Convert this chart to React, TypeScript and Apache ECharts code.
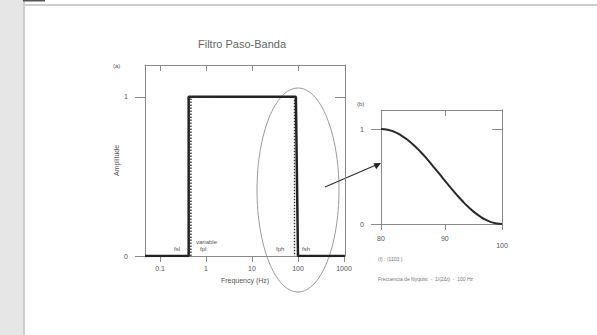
import React, { useEffect, useRef } from "react";
import * as echarts from "echarts";

// Panel (a): band-pass response (frequency in Hz, amplitude)
const solidFreq = [0.0472, 0.42, 0.42, 90, 100, 1050];
const solidAmp = [0, 0, 1, 1, 0, 0];
const dottedLowFreq = [0.47, 0.47, 1.6];
const dottedLowAmp = [0, 1, 1];
const dottedHighFreq = [84, 84];
const dottedHighAmp = [1, 0];
const mainTickFreqs = [0.1, 1, 10, 100, 1000];
const mainTickLabels = ["0.1", "1", "10", "100", "1000"];
const ampTicks = [0, 1];

// Panel (b): taper between 80 and 100 Hz
const taperFreq = [80, 81, 82, 83, 84, 85, 86, 87, 88, 89, 90, 91, 92, 93, 94, 95, 96, 97, 98, 99, 100];
const taperAmp = [1.0, 0.992, 0.97, 0.934, 0.887, 0.829, 0.763, 0.691, 0.613, 0.535, 0.456, 0.38, 0.307, 0.239, 0.178, 0.125, 0.081, 0.045, 0.02, 0.005, 0];
const zoomTickFreqs = [80, 90, 100];
const zoomTickLabels = ["80", "90", "100"];

const lg = (v: number) => Math.log10(v);

export default function App() {
  const ref = useRef<HTMLDivElement>(null);
  useEffect(() => {
    if (!ref.current) return;
    const chart = echarts.init(ref.current, null, { renderer: "svg" });
    const axisColor = "#8a8a8a";
    const textColor = "#555555";
    const font = "Liberation Sans";
    const mainTicks = mainTickFreqs.map(lg);
    const zoomTicks = zoomTickFreqs.map(lg);
    const labelFor = (ticks: number[], labels: string[], v: number) => {
      let best = 0;
      ticks.forEach((t, i) => {
        if (Math.abs(t - v) < Math.abs(ticks[best] - v)) best = i;
      });
      return labels[best];
    };
    const line = { show: true, onZero: false, lineStyle: { color: axisColor, width: 1 } };
    const baseX = (gridIndex: number, min: number, max: number, ticks: number[], labels: string[], extra: any = {}) => ({
      type: "value",
      gridIndex,
      min,
      max,
      position: "bottom",
      axisLine: line,
      axisTick: { show: true, inside: false, length: 6, customValues: ticks, lineStyle: { color: axisColor } },
      axisLabel: {
        show: true,
        customValues: ticks,
        color: textColor,
        fontSize: 7,
        fontFamily: font,
        margin: 9,
        showMinLabel: true,
        showMaxLabel: true,
        formatter: (v: number) => labelFor(ticks, labels, v),
        ...(extra.axisLabel || {}),
      },
      splitLine: { show: false },
    });
    const topX = (gridIndex: number, min: number, max: number, ticks: number[]) => ({
      type: "value",
      gridIndex,
      min,
      max,
      position: "top",
      axisLine: line,
      axisTick: { show: true, inside: true, length: 6, customValues: ticks, lineStyle: { color: axisColor } },
      axisLabel: { show: false },
      splitLine: { show: false },
    });
    const leftY = (gridIndex: number, extra: any = {}) => ({
      type: "value",
      gridIndex,
      min: 0,
      max: 1.2,
      position: "left",
      axisLine: line,
      axisTick: { show: true, inside: false, length: 10, customValues: ampTicks, lineStyle: { color: axisColor } },
      axisLabel: {
        show: true,
        customValues: ampTicks,
        color: textColor,
        fontSize: 7,
        fontFamily: font,
        margin: 17,
        formatter: (v: number) => String(Math.round(v)),
      },
      splitLine: { show: false },
      ...extra,
    });
    const rightY = (gridIndex: number) => ({
      type: "value",
      gridIndex,
      min: 0,
      max: 1.2,
      position: "right",
      axisLine: line,
      axisTick: { show: true, inside: true, length: 10, customValues: [1], lineStyle: { color: axisColor } },
      axisLabel: { show: false },
      splitLine: { show: false },
    });

    const mainMin = -1.326;
    const mainMax = 3.022;
    const zMin = lg(80);
    const zMax = 2;

    const label = (x: number, y: number, text: string, size = 7, extra: any = {}) => ({
      type: "text",
      x,
      y,
      style: { text, fill: textColor, fontSize: size, fontFamily: font, ...extra },
      silent: true,
    });

    chart.setOption({
      animation: false,
      backgroundColor: "#ffffff",
      title: {
        text: "Filtro Paso-Banda",
        left: 237,
        top: 33,
        textAlign: "center",
        textStyle: { color: "#666", fontSize: 11, fontWeight: "normal", fontFamily: font },
      },
      grid: [
        { left: 145, top: 65, width: 200, height: 191 },
        { left: 381, top: 110, width: 121, height: 114 },
      ],
      xAxis: [
        {
          ...baseX(0, mainMin, mainMax, mainTicks, mainTickLabels),
          name: "Frequency (Hz)",
          nameLocation: "middle",
          nameGap: 21,
          nameTextStyle: { color: textColor, fontSize: 7, fontFamily: font },
        },
        topX(0, mainMin, mainMax, mainTicks.slice(0, 4)),
        baseX(1, zMin, zMax, zoomTicks, zoomTickLabels, {
          axisLabel: {
            margin: 11,
            formatter: (v: number) => {
              const s = labelFor(zoomTicks, zoomTickLabels, v);
              return s === "100" ? "{low|100}" : s;
            },
            rich: { low: { padding: [7, 0, 0, 0], fontSize: 7, color: textColor, fontFamily: font } },
          },
        }),
        topX(1, zMin, zMax, [lg(90)]),
      ],
      yAxis: [
        leftY(0, {
          name: "Amplitude",
          nameLocation: "middle",
          nameGap: 22,
          nameRotate: 90,
          nameTextStyle: { color: textColor, fontSize: 7, fontFamily: font },
        }),
        rightY(0),
        leftY(1),
        rightY(1),
      ],
      series: [
        {
          type: "line",
          xAxisIndex: 0,
          yAxisIndex: 0,
          data: solidFreq.map((f, i) => [lg(f), solidAmp[i]]),
          showSymbol: false,
          clip: true,
          lineStyle: { color: "#222", width: 2.5 },
        },
        {
          type: "line",
          xAxisIndex: 0,
          yAxisIndex: 0,
          data: dottedLowFreq.map((f, i) => [lg(f), dottedLowAmp[i]]),
          showSymbol: false,
          lineStyle: { color: "#333", width: 1.4, type: [1.5, 1.5] },
        },
        {
          type: "line",
          xAxisIndex: 0,
          yAxisIndex: 0,
          data: dottedHighFreq.map((f, i) => [lg(f), dottedHighAmp[i]]),
          showSymbol: false,
          lineStyle: { color: "#333", width: 1.4, type: [1.5, 1.5] },
        },
        {
          type: "line",
          xAxisIndex: 2,
          yAxisIndex: 2,
          data: taperFreq.map((f, i) => [lg(f), taperAmp[i]]),
          showSymbol: false,
          smooth: true,
          lineStyle: { color: "#2a2a2a", width: 2 },
        },
      ],
      graphic: [
        { type: "rect", shape: { x: 0, y: 0, width: 23, height: 335 }, style: { fill: "#e6e6e6" }, silent: true },
        { type: "rect", shape: { x: 23, y: 0, width: 2, height: 335 }, style: { fill: "#cdcdcd" }, silent: true },
        { type: "rect", shape: { x: 23, y: 4, width: 574, height: 2 }, style: { fill: "#cfcfcf" }, silent: true },
        { type: "rect", shape: { x: 23, y: 0, width: 22, height: 1.5 }, style: { fill: "#555" }, silent: true },
        label(113, 63, "(a)", 6),
        label(357, 101, "(b)", 6),
        label(174, 246, "fsl", 6),
        label(196, 239, "variable", 6),
        label(200, 246, "fpl", 6),
        label(276, 246, "fph", 6),
        label(302, 246, "fsh", 6),
        label(378, 256, "(f) : (1103 )", 5, { fill: "#777" }),
        label(378, 276, "Frecuencia de Nyquist  -  1/(2Δt)  -  100 Hz", 5, { fill: "#777" }),
        {
          type: "ellipse",
          shape: { cx: 298, cy: 190, rx: 41, ry: 102 },
          style: { fill: "none", stroke: "#9a9a9a", lineWidth: 1 },
          silent: true,
        },
        {
          type: "line",
          shape: { x1: 325, y1: 187, x2: 376, y2: 165 },
          style: { stroke: "#333", lineWidth: 1.3 },
          silent: true,
        },
        {
          type: "polygon",
          shape: { points: [[381, 163], [373.5, 163.2], [376.2, 169.3]] },
          style: { fill: "#222" },
          silent: true,
        },
      ],
    });
    return () => chart.dispose();
  }, []);
  return (
    <div
      ref={ref}
      style={{ position: "absolute", left: 0, top: 0, width: 597, height: 335 }}
    />
  );
}
